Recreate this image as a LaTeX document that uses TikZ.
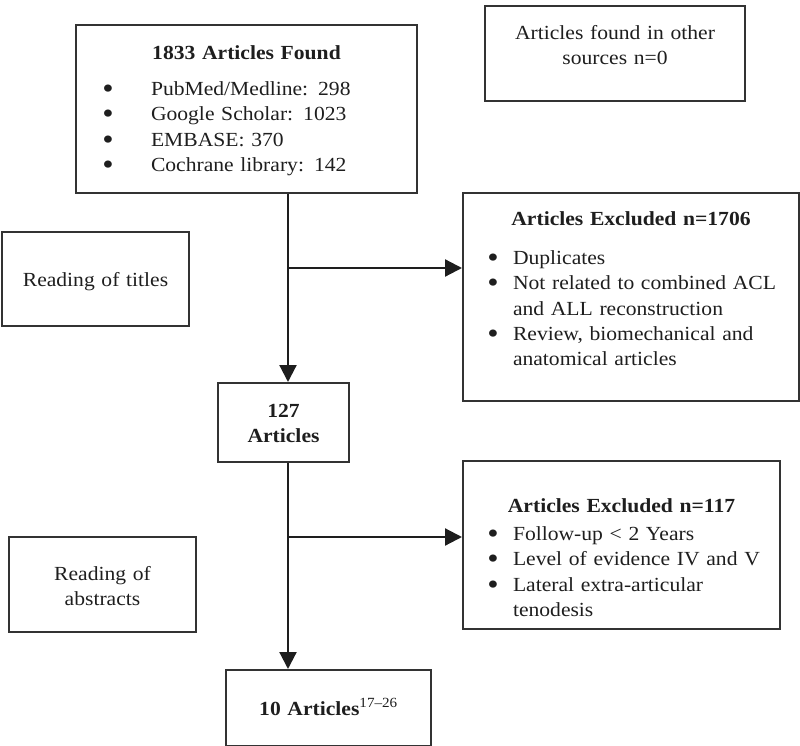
\documentclass[tikz,border=0pt]{standalone}
\usepackage{fontspec}
\setmainfont{Liberation Serif}[FakeStretch=1.08]
\usepackage{tikz}
\usetikzlibrary{arrows.meta}
\definecolor{boxline}{HTML}{333333}
\definecolor{ink}{HTML}{1E1E1E}
\tikzset{box/.style = {draw=boxline, line width=2pt, anchor=north west,
                       inner sep=0pt, align=center, text=ink,
                       font=\fontsize{20}{25.3}\selectfont}}
\tikzset{flow/.style = {draw=ink, line width=2.2pt,
                        -{Triangle[length=17pt,width=17pt]}}}
\newcommand{\bigdot}{\smash{\raisebox{-3pt}{\scalebox{1.5}{\textbullet}}}}
\newcommand{\itemline}[3]{\makebox[\hsize][l]{\hspace*{#1pt}\makebox[0pt]{\bigdot}\hspace*{#2pt}#3}}
\newcommand{\contline}[2]{\makebox[\hsize][l]{\hspace*{#1pt}#2}}
\begin{document}
\begin{tikzpicture}[x=1pt, y=-1pt]
  \useasboundingbox (0,0) rectangle (800,746);
  % search
  \node[box, text width=341pt, text height=34.5pt, text depth=133.5pt] (found) at (75,24)
    {\textbf{1833 Articles Found}\\[10.7pt]
     \itemline{32}{43}{PubMed/Medline: 298}\\
     \itemline{32}{43}{Google Scholar: 1023}\\
     \itemline{32}{43}{EMBASE: 370}\\
     \itemline{32}{43}{Cochrane library: 142}};
  \node[box, text width=260pt, text height=33.5pt, text depth=61.5pt] (other) at (484,5)
    {Articles found in other\\sources n=0};
  % screening of titles
  \node[box, text width=187pt, text height=54.5pt, text depth=39.5pt] (titles) at (1,231)
    {Reading of titles};
  \node[box, text width=336pt, text height=32.5pt, text depth=175.5pt] (excl1) at (462,192)
    {\textbf{Articles Excluded n=1706}\\[13.7pt]
     \itemline{30}{20}{Duplicates}\\
     \itemline{30}{20}{Not related to combined ACL}\\
     \contline{50}{and ALL reconstruction}\\
     \itemline{30}{20}{Review, biomechanical and}\\
     \contline{50}{anatomical articles}};
  \node[box, text width=131pt, text height=34.5pt, text depth=44.5pt] (n127) at (217,382)
    {\textbf{127}\\\textbf{Articles}};
  % screening of abstracts
  \node[box, text width=187pt, text height=43.5pt, text depth=51.5pt] (abstr) at (8,536)
    {Reading of\\abstracts};
  \node[box, text width=317pt, text height=51.5pt, text depth=116.5pt] (excl2) at (462,460)
    {\textbf{Articles Excluded n=117}\\[2.7pt]
     \itemline{30}{20}{Follow-up < 2 Years}\\
     \itemline{30}{20}{Level of evidence IV and V}\\
     \itemline{30}{20}{Lateral extra-articular}\\
     \contline{50}{tenodesis}};
  \node[box, text width=205pt, text height=45.5pt, text depth=30.5pt] (n10) at (225,669)
    {\textbf{10 Articles}\textsuperscript{17--26}};
  % arrows
  \coordinate (t1) at (288,268);
  \coordinate (t2) at (288,537);
  \draw[flow] (t1 |- found.south) -- (t1 |- n127.north);
  \draw[flow] (t1) -- (t1 -| excl1.west);
  \draw[flow] (t2 |- n127.south) -- (t2 |- n10.north);
  \draw[flow] (t2) -- (t2 -| excl2.west);
\end{tikzpicture}
\end{document}
